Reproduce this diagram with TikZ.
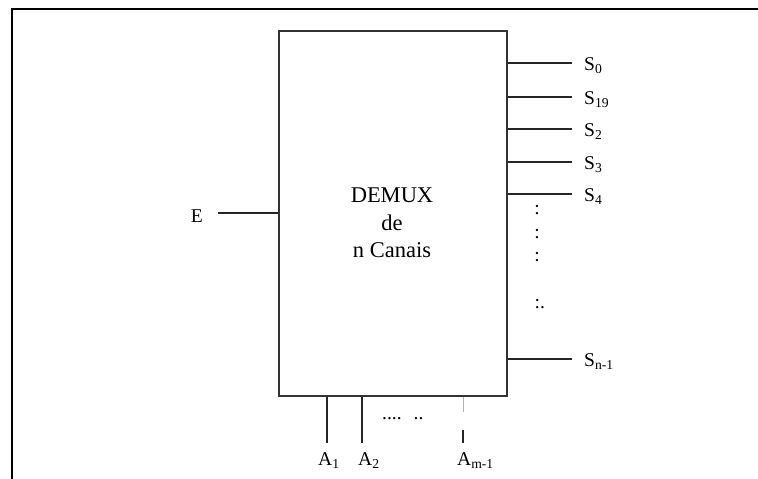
\documentclass[tikz,border=0pt]{standalone}
\usepackage{fontspec}
\setmainfont{Liberation Serif}
\usepackage{tikz}
\tikzset{
    wire/.style={line width=1.1pt, black!85},
    faintwire/.style={line width=0.4pt, black!30},
    pin/.style={inner sep=0pt, anchor=base west, font=\fontsize{19.5}{23}\selectfont},
    dotsym/.style={inner sep=0pt, anchor=base, font=\fontsize{19.5}{23}\selectfont},
}
\newcommand{\outwire}[3]{
    \coordinate (#1) at (572,#2);
    \draw[wire] (dmx.east |- #1) -- (#1);
    \node[pin] (#1lbl) at ([xshift=12pt,yshift=-7.5pt]#1) {S\textsubscript{#3}};
}

\begin{document}
\begin{tikzpicture}[x=1pt,y=-1pt]
    \useasboundingbox (0,0) rectangle (758,479);
    % frame
    \draw[line width=2.3pt] (12,479) -- (12,9) -- (758,9);

    % demux block
    \node[draw, line width=1.2pt, black!80, minimum width=228pt, minimum height=365pt, inner sep=0pt] (dmx) at (393,213.5) {};
    \node[align=center, inner sep=0pt, font=\fontsize{22.5}{27.5}\selectfont] (title) at (392,223) {DEMUX\\de\\n Canais};

    % input
    \coordinate (ein) at (218,213);
    \draw[wire] (ein) -- (dmx.west |- ein);
    \node[pin, anchor=base east] (elbl) at (203,222) {E};

    % outputs
    \outwire{s0}{63}{0}
    \outwire{s1}{97}{19}
    \outwire{s2}{129}{2}
    \outwire{s3}{162}{3}
    \outwire{s4}{194}{4}
    \outwire{sn}{359}{n-1}
    \node[dotsym] (vd1) at (537,214.5) {:};
    \node[dotsym] (vd2) at (537,238.5) {:};
    \node[dotsym] (vd3) at (537,261.5) {:};
    \node[dotsym, anchor=base west] (vd4) at (534.5,308.5) {:.};

    % select lines
    \coordinate (a1) at (327,443);
    \coordinate (a2) at (362,443);
    \coordinate (amtop) at (463,412);
    \coordinate (ammid) at (463,430);
    \coordinate (am) at (463,443);
    \draw[wire] (dmx.south -| a1) -- (a1);
    \draw[wire] (dmx.south -| a2) -- (a2);
    \draw[faintwire] (dmx.south -| amtop) -- (amtop);
    \draw[wire] (ammid) -- (am);
    \node[pin] (a1lbl) at (318,465) {A\textsubscript{1}};
    \node[pin] (a2lbl) at (358,465) {A\textsubscript{2}};
    \node[pin] (amlbl) at (457,465) {A\textsubscript{m-1}};
    \node[pin] (hdots) at (382,419) {....\hspace{12pt}..};
\end{tikzpicture}
\end{document}
